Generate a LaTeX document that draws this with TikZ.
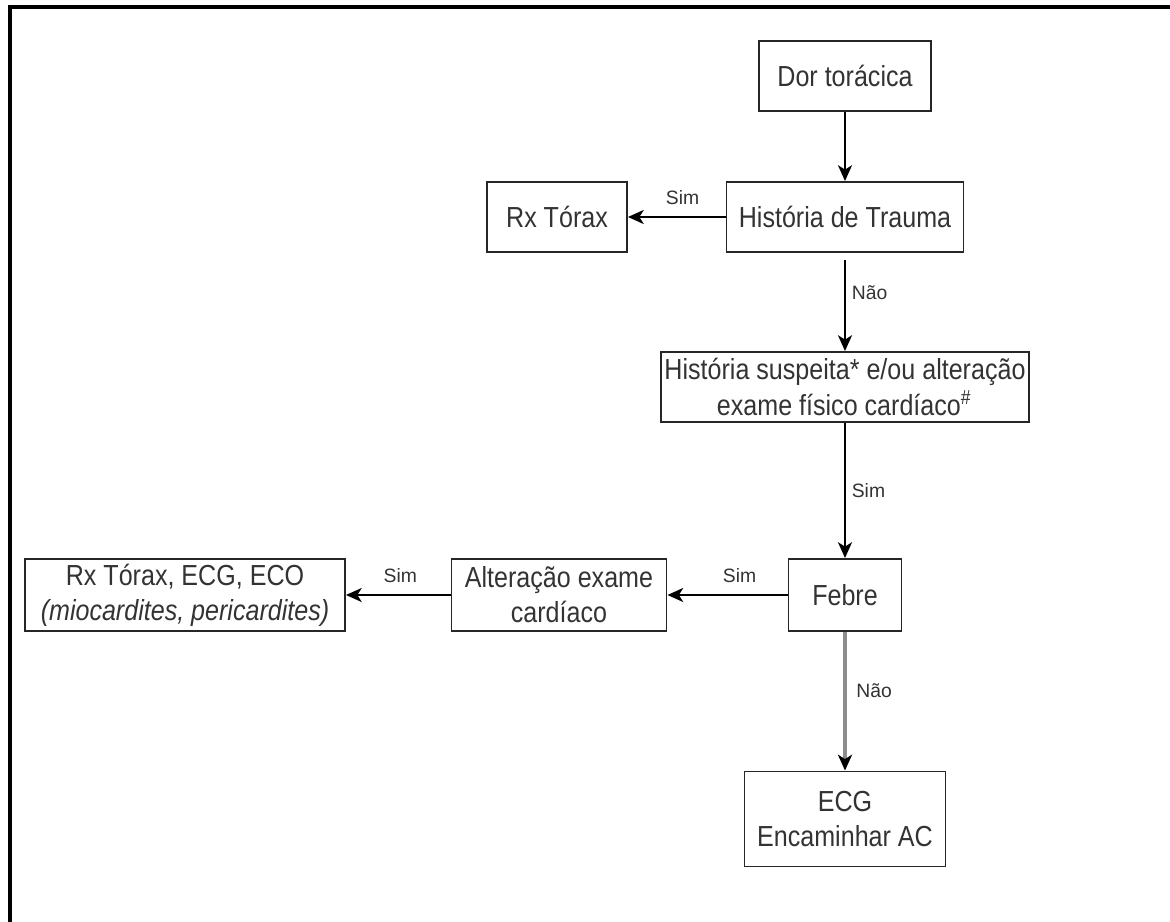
\documentclass[tikz,border=0pt]{standalone}
\usepackage{fontspec}
\setmainfont{Liberation Sans}[FakeStretch=0.865]
\newfontfamily\lblfont{Liberation Sans}
\usepackage{xcolor}
\usepackage{tikz}
\usetikzlibrary{arrows.meta,positioning}

\begin{document}
\begin{tikzpicture}[x=0.02cm, y=-0.02cm,
  box/.style={rectangle, draw=black!85, line width=1.1pt, align=center, text=black!80, font=\fontsize{16.5}{20}\selectfont, inner sep=2pt},
  trans/.style={-{Stealth[length=9pt, width=8pt, inset=2.5pt]}, line width=1.1pt, draw=black},
  lbl/.style={font=\lblfont\fontsize{11}{13}\selectfont, text=black!80}
]
\useasboundingbox (0,0) rectangle (1170,922);
\draw[line width=2.6pt] (10,7) rectangle (1200,960);

\node[box, minimum width=3.44cm, minimum height=1.4cm] (dor) at (845,76) {Dor torácica};
\node[box, minimum width=4.74cm, minimum height=1.4cm] (trauma) at (845,217) {História de Trauma};
\node[box, minimum width=2.8cm, minimum height=1.4cm] (rxtorax) at (557,217) {Rx Tórax};
\node[box, minimum width=7.36cm, minimum height=1.4cm] (suspeita) at (845,387) {História suspeita* e/ou alteração\\exame físico cardíaco$^{\#}$};
\node[box, minimum width=2.26cm, minimum height=1.44cm] (febre) at (845,595) {Febre};
\node[box, minimum width=4.3cm, minimum height=1.44cm] (altera) at (559,595) {Alteração exame\\cardíaco};
\node[box, minimum width=6.4cm, minimum height=1.44cm] (rxeco) at (185,595) {Rx Tórax, ECG, ECO\\\textit{(miocardites, pericardites)}};
\node[box, minimum width=4.02cm, minimum height=1.9cm] (ecg) at (845,819) {ECG\\Encaminhar AC};

% Fluxo
\draw[trans] (dor) -- (trauma);
\draw[trans] (trauma) -- node[lbl, above, pos=0.44, yshift=3pt] {Sim} (rxtorax);
\draw[trans, shorten <=4pt] (trauma) -- node[lbl, right, pos=0.4] {Não} (suspeita);
\draw[trans] (suspeita) -- node[lbl, right, pos=0.5] {Sim} (febre);
\draw[trans] (febre) -- node[lbl, above, pos=0.4, yshift=3pt] {Sim} (altera);
\draw[trans] (altera) -- node[lbl, above, pos=0.48, yshift=3pt] {Sim} (rxeco);
\draw[trans, draw=black!45, line width=2.2pt, -{Stealth[length=9pt, width=8pt, inset=2.5pt, color=black]}] (febre) -- node[lbl, right, pos=0.42, xshift=2pt] {Não} (ecg);

\end{tikzpicture}
\end{document}
